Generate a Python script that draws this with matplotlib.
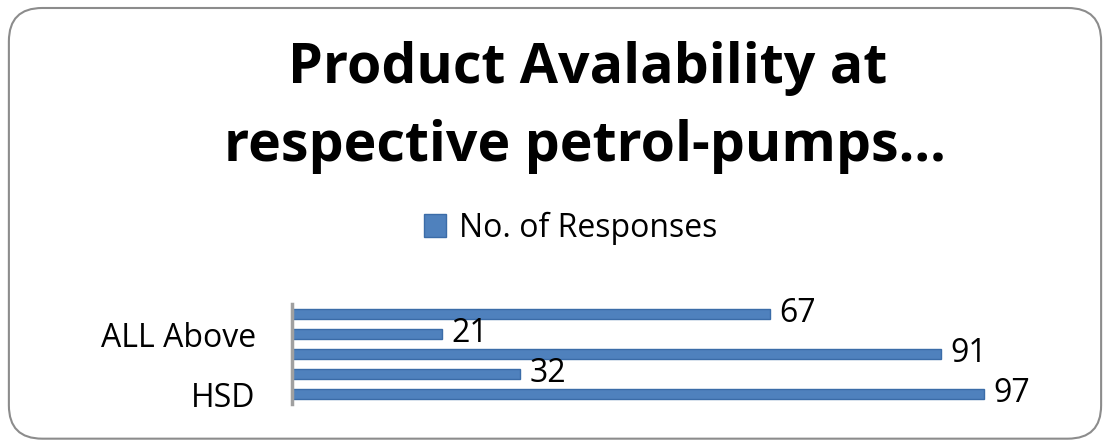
import matplotlib
matplotlib.use('Agg')
import matplotlib.pyplot as plt
from matplotlib.patches import FancyBboxPatch

categories = ['HSD', 'Cat 2', 'Cat 3', 'ALL Above', 'Cat 5']
tick_labels = ['HSD', '', '', 'ALL Above', '']
responses = [97, 32, 91, 21, 67]
series_name = 'No. of Responses'

plt.rcParams['font.family'] = ['Open Sans', 'DejaVu Sans']

fig = plt.figure(figsize=(11.1, 4.44), dpi=100)

# rounded chart border
border = FancyBboxPatch((0.008, 0.012), 0.984, 0.97,
                        boxstyle='round,pad=0,rounding_size=0.03',
                        transform=fig.transFigure, facecolor='none',
                        edgecolor='#8c8c8c', linewidth=1.5, mutation_aspect=2.5,
                        zorder=-1)
fig.patches.append(border)

fig.text(0.529, 0.845, 'Product Avalability at', ha='center', va='center',
         fontsize=40, fontweight='bold', color='black')
fig.text(0.527, 0.67, 'respective petrol-pumps...', ha='center', va='center',
         fontsize=40, fontweight='bold', color='black')

ax = fig.add_axes([0.263, 0.09, 0.643, 0.225])
y = range(len(categories))
bars = ax.barh(y, responses, height=0.5, color='#4F81BD', edgecolor='#3B6CA8',
               linewidth=1, label=series_name)
for yi, v in zip(y, responses):
    ax.text(v + 1.3, yi + 0.05, str(v), va='center', ha='left', fontsize=23)

ax.set_xlim(0, 100)
ax.set_ylim(-0.5, 4.5)
ax.set_yticks(list(y))
ax.set_yticklabels(tick_labels, fontsize=23)
ax.tick_params(axis='y', length=0, pad=26)
ax.set_xticks([])
for s in ['top', 'right', 'bottom']:
    ax.spines[s].set_visible(False)
ax.spines['left'].set_color('#a0a0a0')
ax.spines['left'].set_linewidth(2.5)
ax.patch.set_alpha(0)

fig.legend(handles=[bars], labels=[series_name], loc='center',
           bbox_to_anchor=(0.514, 0.486), frameon=False, fontsize=23,
           handlelength=0.7, handleheight=0.7, handletextpad=0.4)

fig.savefig('out.png', dpi=100)
